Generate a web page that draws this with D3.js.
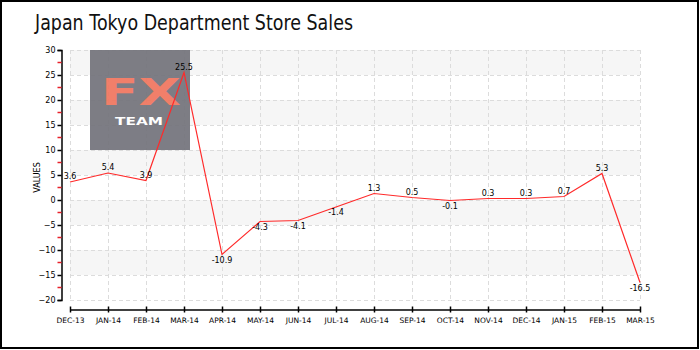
<!DOCTYPE html>
<html>
<head>
<meta charset="utf-8">
<script src="https://cdn.jsdelivr.net/npm/d3@7"></script>
<style>
  html, body { margin: 0; padding: 0; background: #fff; }
  svg { display: block; }
  text { font-family: "DejaVu Sans", sans-serif; }
</style>
</head>
<body>
<svg id="chart" width="700" height="350"></svg>
<script>
// Monthly change (%) of Tokyo department store sales
const months = ["DEC-13", "JAN-14", "FEB-14", "MAR-14", "APR-14", "MAY-14", "JUN-14", "JUL-14",
                "AUG-14", "SEP-14", "OCT-14", "NOV-14", "DEC-14", "JAN-15", "FEB-15", "MAR-15"];
const sales = [3.6, 5.4, 3.9, 25.5, -10.9, -4.3, -4.1, -1.4, 1.3, 0.5, -0.1, 0.3, 0.3, 0.7, 5.3, -16.5];
const yTicks = [-20, -15, -10, -5, 0, 5, 10, 15, 20, 25, 30];
const yMinorTicks = [-17.5, -12.5, -7.5, -2.5, 2.5, 7.5, 12.5, 17.5, 22.5, 27.5];
const chartTitle = "Japan Tokyo Department Store Sales";
const yAxisTitle = "VALUES";

const svg = d3.select("#chart");
const W = 700, H = 350;

const x = d3.scalePoint().domain(months).range([70, 640]);
const y = d3.scaleLinear().domain([-20, 30]).range([300, 50]);

// outer frame
svg.append("rect")
  .attr("x", 1).attr("y", 1).attr("width", W - 3).attr("height", H - 3)
  .attr("fill", "#fff").attr("stroke", "#000").attr("stroke-width", 2);

// title
svg.append("text")
  .attr("x", 35).attr("y", 30)
  .attr("font-family", "Roboto, sans-serif")
  .attr("font-size", 21)
  .attr("textLength", 318).attr("lengthAdjust", "spacingAndGlyphs")
  .attr("fill", "#111")
  .text(chartTitle);

// alternating background bands (every other 5-unit band, starting below zero)
const bands = d3.pairs(yTicks).filter((p, i) => i % 2 === 1);
svg.append("g").selectAll("rect").data(bands).join("rect")
  .attr("x", x(months[0]))
  .attr("width", x(months[months.length - 1]) - x(months[0]))
  .attr("y", d => y(d[1]))
  .attr("height", d => y(d[0]) - y(d[1]))
  .attr("fill", "#f6f6f6");

// dashed grid
const grid = svg.append("g").attr("stroke", "#dcdcdc").attr("stroke-dasharray", "4,3").attr("stroke-width", 1);
grid.selectAll("line.h").data(yTicks).join("line").attr("class", "h")
  .attr("x1", x(months[0])).attr("x2", x(months[months.length - 1]))
  .attr("y1", d => Math.round(y(d)) + 0.5).attr("y2", d => Math.round(y(d)) + 0.5);
grid.selectAll("line.v").data(months).join("line").attr("class", "v")
  .attr("x1", d => Math.round(x(d)) + 0.5).attr("x2", d => Math.round(x(d)) + 0.5)
  .attr("y1", y(30)).attr("y2", y(-20));

// logo block
const logo = svg.append("g").attr("opacity", 0.93);
logo.append("rect").attr("x", 90).attr("y", 50).attr("width", 100).attr("height", 100).attr("fill", "#74747c");
logo.append("text").attr("x", 141).attr("y", 105).attr("text-anchor", "middle")
  .attr("font-family", "'Open Sans', sans-serif").attr("font-size", 38).attr("font-weight", 600)
  .attr("textLength", 80).attr("lengthAdjust", "spacingAndGlyphs")
  .attr("fill", "#f0765f").text("FX");
logo.append("text").attr("x", 139).attr("y", 125).attr("text-anchor", "middle")
  .attr("font-family", "'Open Sans', sans-serif").attr("font-size", 11).attr("font-weight", 700)
  .attr("textLength", 48).attr("lengthAdjust", "spacingAndGlyphs")
  .attr("fill", "#fff").text("TEAM");

// y axis
const yAxis = svg.append("g").attr("transform", "translate(61.5,0)")
  .call(d3.axisLeft(y).tickValues(yTicks).tickSize(4).tickPadding(2));
yAxis.select(".domain").attr("stroke", "#000").attr("stroke-width", 1.5);
yAxis.selectAll(".tick line").attr("stroke", "#000").attr("stroke-width", 1.5);
yAxis.selectAll(".tick text").attr("font-size", 8).attr("fill", "#000");
yAxis.selectAll("line.minor").data(yMinorTicks).join("line").attr("class", "minor")
  .attr("x1", -4).attr("x2", 0)
  .attr("y1", d => y(d)).attr("y2", d => y(d))
  .attr("stroke", "#e8202a").attr("stroke-width", 1.5);

svg.append("text")
  .attr("transform", `translate(40,${y(4.5)}) rotate(-90)`)
  .attr("text-anchor", "middle").attr("font-size", 8).attr("fill", "#000")
  .text(yAxisTitle);

// x axis
const xAxis = svg.append("g").attr("transform", "translate(0,309.5)")
  .call(d3.axisBottom(x).tickSize(3).tickPadding(5).tickSizeOuter(0));
xAxis.select(".domain").attr("stroke", "#000").attr("stroke-width", 1.5);
xAxis.selectAll(".tick line").attr("stroke", "#000").attr("stroke-width", 1.5).attr("y1", -3);
xAxis.selectAll(".tick text").attr("font-size", 7.5).attr("fill", "#000");

// series line
const points = months.map((m, i) => ({ m, v: sales[i] }));
svg.append("path").datum(points)
  .attr("fill", "none").attr("stroke", "#ff2a2a").attr("stroke-width", 1.2)
  .attr("d", d3.line().x(d => x(d.m)).y(d => y(d.v)));

// value labels
svg.append("g").selectAll("text").data(points).join("text")
  .attr("x", d => x(d.m))
  .attr("y", d => d.v >= 0 ? y(d.v) - 3 : y(d.v) + 8)
  .attr("text-anchor", "middle").attr("font-size", 8).attr("fill", "#000")
  .text(d => d.v.toFixed(1));
</script>
</body>
</html>
